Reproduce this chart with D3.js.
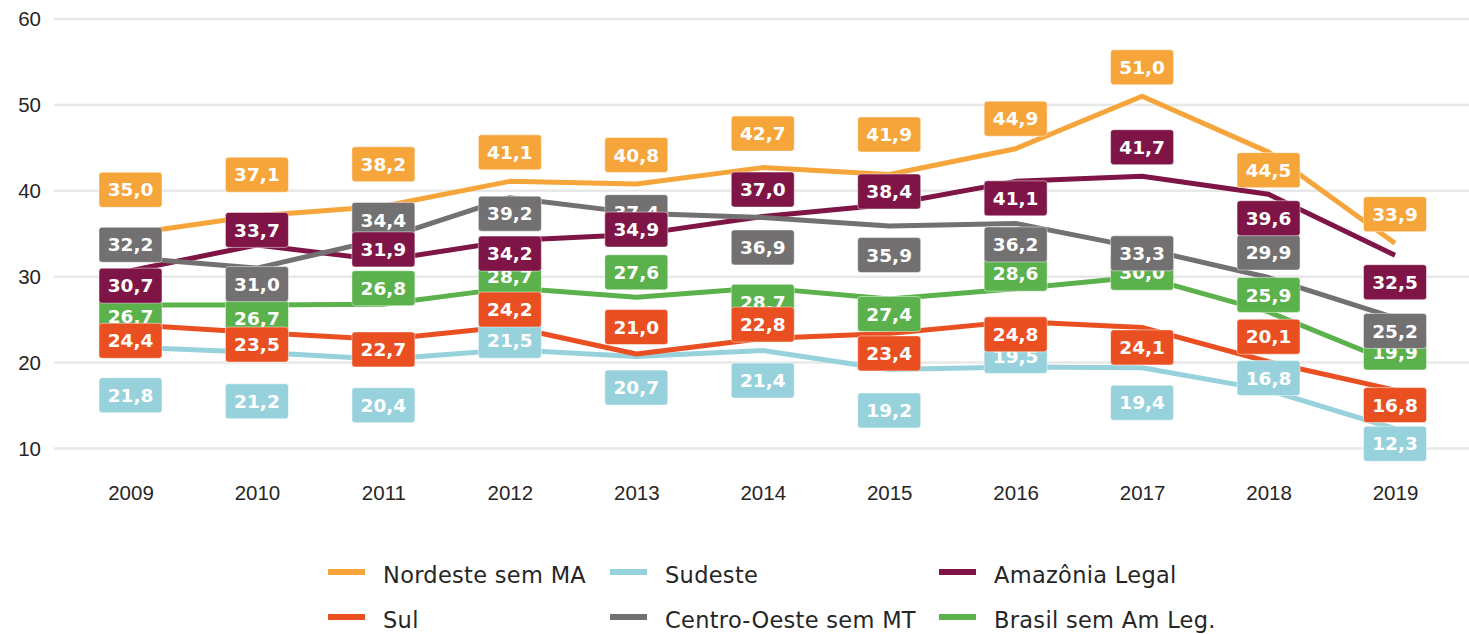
<!DOCTYPE html>
<html>
<head>
<meta charset="utf-8">
<script src="https://cdn.jsdelivr.net/npm/d3@7"></script>
<style>
	html, body { margin: 0; padding: 0; background: #fff; }
	svg { display: block; font-family: 'DejaVu Sans', sans-serif; }
	.tick-label { font-size: 20.5px; fill: #262626; }
	.legend-label { font-size: 22.5px; letter-spacing: 0.3px; fill: #262626; }
	.value-label { font-size: 18.5px; font-weight: bold; fill: #fff; }
</style>
</head>
<body>
<svg id="chart"></svg>
<script>
const years = ['2009', '2010', '2011', '2012', '2013', '2014', '2015', '2016', '2017', '2018', '2019'];
const yTicks = [10, 20, 30, 40, 50, 60];

const nordeste = [35.0, 37.1, 38.2, 41.1, 40.8, 42.7, 41.9, 44.9, 51.0, 44.5, 33.9];
const sudeste = [21.8, 21.2, 20.4, 21.5, 20.7, 21.4, 19.2, 19.5, 19.4, 16.8, 12.3];
const amazonia = [30.7, 33.7, 31.9, 34.2, 34.9, 37.0, 38.4, 41.1, 41.7, 39.6, 32.5];
const sul = [24.4, 23.5, 22.7, 24.2, 21.0, 22.8, 23.4, 24.8, 24.1, 20.1, 16.8];
const centroOeste = [32.2, 31.0, 34.4, 39.2, 37.4, 36.9, 35.9, 36.2, 33.3, 29.9, 25.2];
const brasil = [26.7, 26.7, 26.8, 28.7, 27.6, 28.7, 27.4, 28.6, 30.0, 25.9, 19.9];

// label nudges in px (layout only), the way they sit in the original
const dyNordeste = [-44, -41, -42, -29, -29, -34, -40, -30, -29, 18, -29];
const dySudeste = [48, 49, 46, -9, 31, 30, 41, -11, 35, -12, 15];
const dyAmazonia = [15, -15, -11, 13, -5, -27, -13, 17, -29, 24, 27];
const dySul = [16, 12, 10, -17, -27, -14, 20, 13, 20, -25, 15];
const dyCentroOeste = [-13, 16, -19, 16, -1, 30, 29, 21, 5, -25, 13];
const dyBrasil = [11, 13, -16, -12, -25, 14, 15, -15, -4, -17, -11];

const series = [
	{ name: 'Nordeste sem MA', values: nordeste, dy: dyNordeste, color: '#f6a53b' },
	{ name: 'Sudeste', values: sudeste, dy: dySudeste, color: '#97d2dc' },
	{ name: 'Amazônia Legal', values: amazonia, dy: dyAmazonia, color: '#7e1546' },
	{ name: 'Sul', values: sul, dy: dySul, color: '#e94f21' },
	{ name: 'Centro-Oeste sem MT', values: centroOeste, dy: dyCentroOeste, color: '#727071' },
	{ name: 'Brasil sem Am Leg.', values: brasil, dy: dyBrasil, color: '#5bb14b' },
];
// order in which the value boxes stack (last on top)
const labelOrder = ['Brasil sem Am Leg.', 'Sudeste', 'Centro-Oeste sem MT', 'Amazônia Legal', 'Sul', 'Nordeste sem MA'];

const width = 1469;
const height = 634;
const gridLeft = 54;
const boxW = 63;
const boxH = 35;

const svg = d3.select('#chart')
	.attr('width', width)
	.attr('height', height);

const x = d3.scalePoint().domain(years).range([130.5, 1395]);
const y = d3.scaleLinear().domain([10, 60]).range([448.5, 19]);

const fmt = (v) => d3.format('.1f')(v).replace('.', ',');

// grid lines
svg.append('g')
	.selectAll('line')
	.data(yTicks)
	.join('line')
		.attr('x1', gridLeft)
		.attr('x2', width)
		.attr('y1', (d) => y(d))
		.attr('y2', (d) => y(d))
		.attr('stroke', '#e8e8e8')
		.attr('stroke-width', 2.5);

// y axis
const yAxis = svg.append('g')
	.attr('transform', 'translate(41, 0)')
	.call(d3.axisLeft(y).tickValues(yTicks).tickSize(0).tickPadding(0).tickFormat(d3.format('d')));
yAxis.select('.domain').remove();
yAxis.selectAll('text')
	.attr('class', 'tick-label')
	.attr('font-family', null)
	.attr('font-size', null);

// x axis
const xAxis = svg.append('g')
	.attr('transform', 'translate(0, 485)')
	.call(d3.axisBottom(x).tickSize(0).tickPadding(0));
xAxis.select('.domain').remove();
xAxis.selectAll('text')
	.attr('class', 'tick-label')
	.attr('font-family', null)
	.attr('font-size', null)
	.attr('dy', '0.71em');

// lines
const line = d3.line()
	.x((d, i) => x(years[i]))
	.y((d) => y(d));

svg.append('g')
	.selectAll('path')
	.data(series)
	.join('path')
		.attr('d', (s) => line(s.values))
		.attr('fill', 'none')
		.attr('stroke', (s) => s.color)
		.attr('stroke-width', 5)
		.attr('stroke-linejoin', 'round');

// value boxes
const ordered = labelOrder.map((n) => series.find((s) => s.name === n));
const labels = svg.append('g')
	.selectAll('g.series-labels')
	.data(ordered)
	.join('g')
		.attr('class', 'series-labels')
	.selectAll('g')
	.data((s) => s.values.map((v, i) => ({ v, i, s })))
	.join('g')
		.attr('transform', (d) => `translate(${ x(years[d.i]) }, ${ y(d.v) + d.s.dy[d.i] })`);

labels.append('rect')
	.attr('x', -boxW / 2)
	.attr('y', -boxH / 2)
	.attr('width', boxW)
	.attr('height', boxH)
	.attr('rx', 3)
	.attr('fill', (d) => d.s.color)
	.attr('stroke', 'rgba(255,255,255,0.6)')
	.attr('stroke-width', 0.8);

labels.append('text')
	.attr('class', 'value-label')
	.attr('text-anchor', 'middle')
	.attr('dy', '0.36em')
	.text((d) => fmt(d.v));

// legend
const legendCols = [328, 610, 939];
const legendRows = [575, 620];
const legend = svg.append('g')
	.selectAll('g')
	.data(series)
	.join('g')
		.attr('transform', (s, i) => `translate(${ legendCols[i % 3] }, ${ legendRows[Math.floor(i / 3)] })`);

legend.append('rect')
	.attr('x', 0)
	.attr('y', -6)
	.attr('width', 37)
	.attr('height', 6)
	.attr('fill', (s) => s.color);

legend.append('text')
	.attr('class', 'legend-label')
	.attr('x', 55)
	.attr('dy', '0.36em')
	.text((s) => s.name);
</script>
</body>
</html>
